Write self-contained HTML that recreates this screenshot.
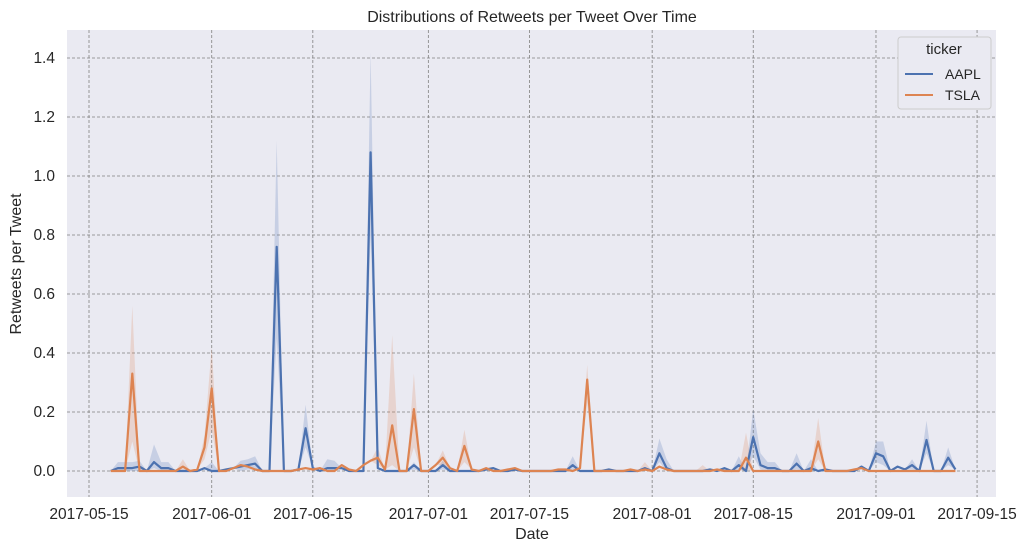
<!DOCTYPE html>
<html><head><meta charset="utf-8"><style>
body{margin:0;background:#fff;font-family:"Liberation Sans",sans-serif}
svg text{font-family:"Liberation Sans",sans-serif;fill:#262626}
</style></head><body>
<svg id="chart" width="1028" height="551" viewBox="0 0 1028 551" xmlns="http://www.w3.org/2000/svg">
<rect x="67" y="30" width="929" height="467" fill="#eaeaf2"/>
<g id="grid"></g><g id="bands"></g><g id="lines"></g><g id="axes"></g>
<text x="532" y="22" font-size="16" text-anchor="middle">Distributions of Retweets per Tweet Over Time</text>
<text x="532" y="539" font-size="16" text-anchor="middle">Date</text>
<text transform="translate(21,264) rotate(-90)" font-size="16" text-anchor="middle">Retweets per Tweet</text>
<g>
<rect x="898" y="37" width="93" height="72" rx="3" fill="#eaeaf2" stroke="#cccccc"/>
<text x="944" y="54" font-size="15" text-anchor="middle">ticker</text>
<line x1="905" y1="74" x2="933" y2="74" stroke="#4c72b0" stroke-width="2"/>
<text x="945" y="79" font-size="14">AAPL</text>
<line x1="905" y1="95" x2="933" y2="95" stroke="#dd8452" stroke-width="2"/>
<text x="945" y="100" font-size="14">TSLA</text>
</g>
</svg>
<script>
const startDate = "2017-05-18";
const aaplValues = [0,0.01,0.01,0.01,0.015,0,0.03,0.01,0.01,0,0,0,0,0.01,0,0,0.005,0.01,0.015,0.02,0.025,0,0,0.76,0,0,0.005,0.145,0.01,0,0.01,0.01,0.01,0,0,0,1.08,0.01,0,0,0,0,0.02,0,0,0,0.02,0,0,0,0,0,0.005,0.01,0,0,0.005,0,0,0,0,0,0,0,0.02,0,0,0,0,0.005,0,0,0,0,0.01,0,0.06,0.01,0,0,0,0,0,0.005,0,0.01,0,0.02,0,0.115,0.02,0.01,0.01,0,0,0.025,0,0.01,0,0.005,0,0,0,0,0.015,0,0.06,0.05,0,0.015,0.005,0.02,0,0.105,0,0,0.045,0.005];
const tslaValues = [0,0,0,0.33,0,0,0,0,0,0,0.015,0,0.005,0.08,0.28,0,0,0.01,0.02,0.015,0.005,0,0,0,0,0,0.005,0.01,0.005,0.01,0,0,0.02,0.005,0,0.02,0.035,0.045,0.005,0.155,0,0,0.21,0,0,0.02,0.045,0.01,0,0.085,0.005,0,0.01,0,0,0.005,0.01,0,0,0,0,0,0.005,0.005,0,0.01,0.31,0,0,0,0,0,0.005,0,0.005,0,0.015,0.005,0,0,0,0,0,0,0.005,0,0,0,0.045,0,0,0,0,0,0,0,0,0,0.1,0,0,0,0,0.005,0.01,0,0,0,0,0,0,0,0,0,0,0,0,0];
const aaplBands = [[1,0,0.03],[2,0,0.03],[3,0,0.03],[4,0,0.035],[6,0.01,0.09],[7,0,0.03],[8,0,0.03],[14,0,0.03],[18,0,0.035],[19,0.005,0.04],[20,0.005,0.05],[23,0.45,1.12],[27,0.08,0.225],[30,0,0.04],[31,0,0.035],[36,0.8,1.42],[42,0.005,0.03],[46,0.005,0.035],[64,0.005,0.05],[76,0.03,0.11],[77,0,0.04],[87,0.005,0.05],[89,0.05,0.21],[90,0.005,0.06],[91,0,0.03],[92,0,0.03],[95,0.005,0.06],[97,0,0.04],[106,0.03,0.1],[107,0.02,0.1],[111,0.005,0.04],[113,0.06,0.17],[116,0.02,0.08]];
const tslaBands = [[3,0.1,0.56],[13,0.04,0.12],[14,0.14,0.42],[10,0,0.04],[37,0.02,0.08],[39,0.02,0.46],[42,0.08,0.33],[46,0.02,0.07],[49,0.03,0.14],[66,0.23,0.36],[74,0,0.03],[88,0.005,0.13],[98,0.04,0.18],[82,0,0.02]];
const yTicks = [0,0.2,0.4,0.6,0.8,1.0,1.2,1.4];
const xTickLabels = ["2017-05-15","2017-06-01","2017-06-15","2017-07-01","2017-07-15","2017-08-01","2017-08-15","2017-09-01","2017-09-15"];

const NS="http://www.w3.org/2000/svg";
const t0 = Date.parse("2017-05-15");
const DAY = 86400000;
function xScale(dateMs){ return 89 + (dateMs - t0)/DAY * 7.22; }
function xIdx(i){ return xScale(Date.parse(startDate) + i*DAY); }
function yScale(v){ return 471 - v*295; }
function mk(tag, attrs, parent){ const e=document.createElementNS(NS,tag); for(const k in attrs) e.setAttribute(k,attrs[k]); parent.appendChild(e); return e; }

const grid=document.getElementById('grid'), axes=document.getElementById('axes');
yTicks.forEach(v=>{
  const y=yScale(v);
  const l=mk('line',{x1:67,x2:996,y1:y,y2:y,stroke:'#808080','stroke-width':0.8,'stroke-dasharray':'3,2'},grid);
  
  
  const t=mk('text',{x:55,y:y+5,'font-size':15.5,'text-anchor':'end'},axes);
  t.textContent=v.toFixed(1);
  
  
});
xTickLabels.forEach(s=>{
  const x=xScale(Date.parse(s));
  const l=mk('line',{x1:x,x2:x,y1:30,y2:497,stroke:'#808080','stroke-width':0.8,'stroke-dasharray':'3,2'},grid);
  
  
  const t=mk('text',{x:x,y:519,'font-size':15.5,'text-anchor':'middle'},axes);
  t.textContent=s;
  
  
});

function drawSeries(vals, bands, color, name){
  const lo=vals.slice(), hi=vals.slice();
  bands.forEach(b=>{ lo[b[0]]=Math.min(b[1],vals[b[0]]); hi[b[0]]=Math.max(b[2],vals[b[0]]); });
  let d='';
  hi.forEach((v,i)=>{ d+=(i?'L':'M')+xIdx(i).toFixed(1)+','+yScale(v).toFixed(1); });
  for(let i=lo.length-1;i>=0;i--) d+='L'+xIdx(i).toFixed(1)+','+yScale(lo[i]).toFixed(1);
  const band=mk('path',{d:d+'Z',fill:color,'fill-opacity':0.22,stroke:'none'},document.getElementById('bands'));
  
  
  const pts=vals.map((v,i)=>xIdx(i).toFixed(1)+','+yScale(v).toFixed(1)).join(' ');
  const line=mk('polyline',{points:pts,fill:'none',stroke:color,'stroke-width':2.2,'stroke-linejoin':'round'},document.getElementById('lines'));
  
  
}
drawSeries(aaplValues, aaplBands, '#4c72b0', 'aapl');
drawSeries(tslaValues, tslaBands, '#dd8452', 'tsla');
</script>
</body></html>
